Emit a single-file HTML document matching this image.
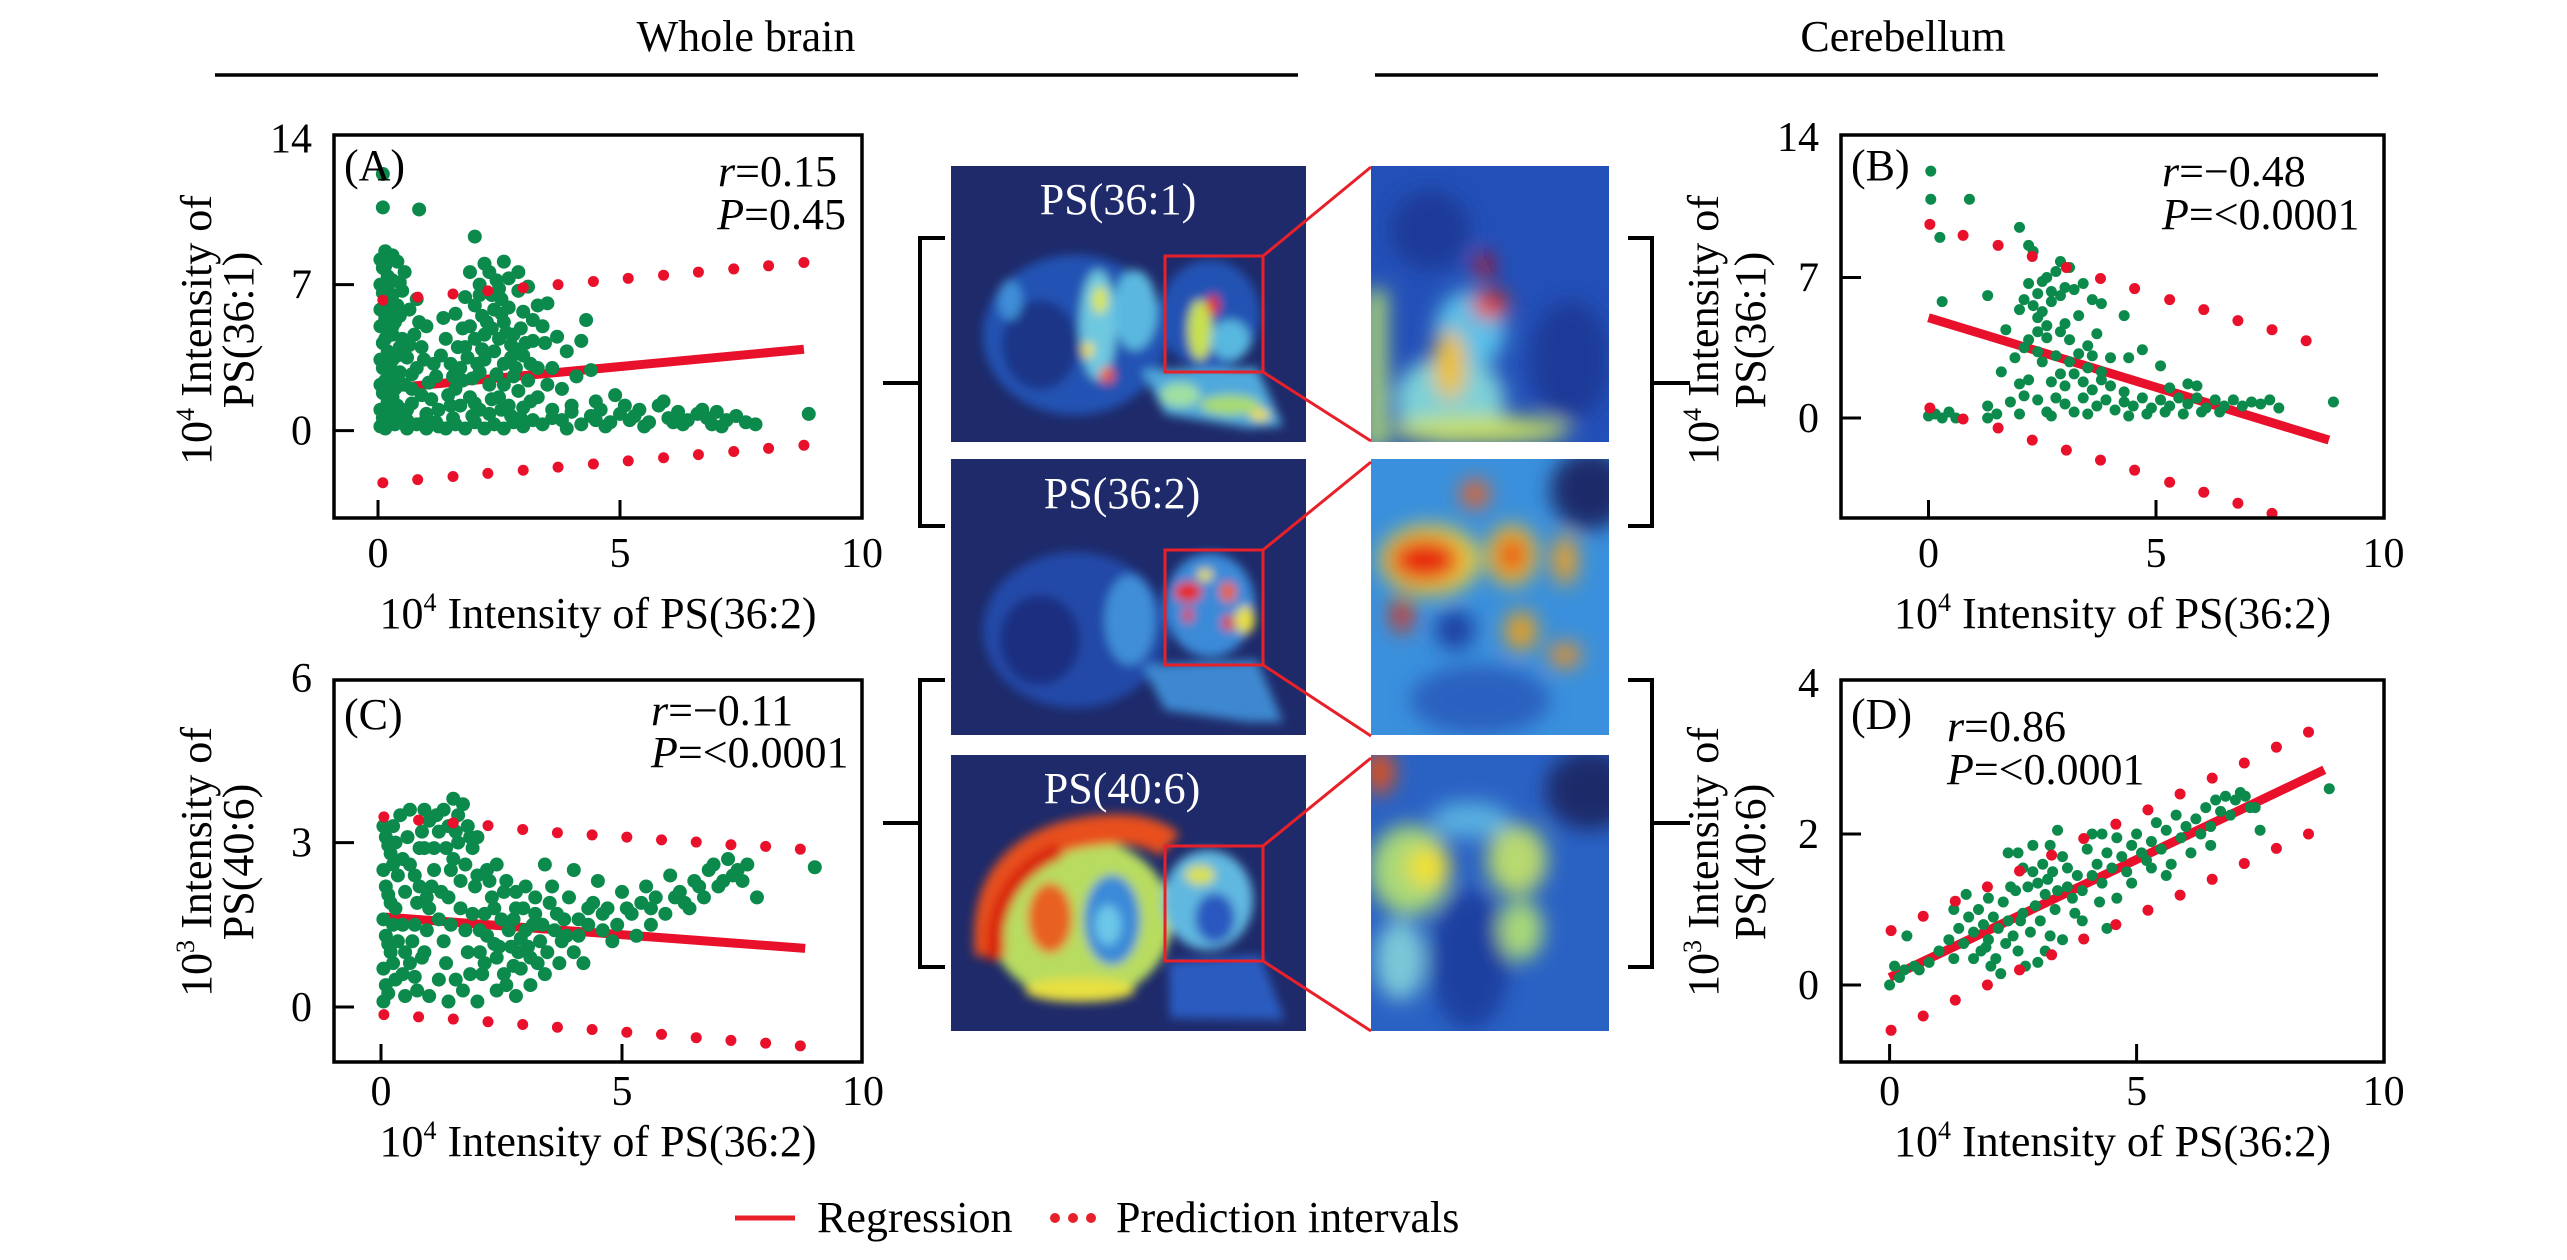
<!DOCTYPE html>
<html><head><meta charset="utf-8">
<style>
html,body{margin:0;padding:0;background:#fff;}
svg{display:block;font-family:"Liberation Serif","Times New Roman",serif;}
</style></head>
<body>
<svg id="fig" width="2567" height="1260" viewBox="0 0 2567 1260" xmlns="http://www.w3.org/2000/svg">
<defs>
<filter id="b1" x="-20%" y="-20%" width="140%" height="140%"><feGaussianBlur stdDeviation="5"/></filter>
<filter id="b2" x="-20%" y="-20%" width="140%" height="140%"><feGaussianBlur stdDeviation="10"/></filter>
<clipPath id="ci1"><rect x="951" y="166" width="355" height="276"/></clipPath>
<clipPath id="ci2"><rect x="951" y="459" width="355" height="276"/></clipPath>
<clipPath id="ci3"><rect x="951" y="755" width="355" height="276"/></clipPath>
<clipPath id="cz1"><rect x="1371" y="166" width="238" height="276"/></clipPath>
<clipPath id="cz2"><rect x="1371" y="459" width="238" height="276"/></clipPath>
<clipPath id="cz3"><rect x="1371" y="755" width="238" height="276"/></clipPath>
</defs>

<text x="746" y="51" font-size="44" text-anchor="middle">Whole brain</text>
<line x1="215" y1="75" x2="1298" y2="75" stroke="#000" stroke-width="3.5"/>
<text x="1903" y="51" font-size="44" text-anchor="middle">Cerebellum</text>
<line x1="1375" y1="75" x2="2378" y2="75" stroke="#000" stroke-width="3.5"/>

<g clip-path="url(#ci1)">
<rect x="951" y="166" width="355" height="276" fill="#1e2a6a"/>
<g filter="url(#b1)">
<ellipse cx="1075" cy="335" rx="92" ry="80" fill="#2453b4"/>
<ellipse cx="1210" cy="315" rx="50" ry="55" fill="#2453b4"/>
<polygon points="1142,370 1257,368 1283,426 1248,428 1165,414" fill="#4fa9dc"/>
<ellipse cx="1040" cy="345" rx="38" ry="45" fill="#1e3487"/>
<ellipse cx="1098" cy="325" rx="18" ry="55" fill="#6ec8e0"/>
<ellipse cx="1135" cy="310" rx="22" ry="40" fill="#5ab8e0"/>
<ellipse cx="1100" cy="300" rx="8" ry="14" fill="#d8e650"/>
<ellipse cx="1107" cy="375" rx="7" ry="8" fill="#f05a10"/>
<ellipse cx="1088" cy="350" rx="6" ry="8" fill="#f0e030"/>
<ellipse cx="1200" cy="330" rx="12" ry="30" fill="#c8e050"/>
<ellipse cx="1213" cy="305" rx="6" ry="10" fill="#e82010"/>
<ellipse cx="1230" cy="340" rx="20" ry="20" fill="#58b8e0"/>
<ellipse cx="1230" cy="405" rx="30" ry="10" fill="#a8dc70"/>
<ellipse cx="1260" cy="415" rx="10" ry="6" fill="#f0e030"/>
<ellipse cx="1180" cy="395" rx="20" ry="12" fill="#a0e0a0"/>
<ellipse cx="1010" cy="300" rx="12" ry="20" fill="#3f8ed8"/>
</g>
</g>
<text x="1118" y="214" font-size="44" fill="#fff" text-anchor="middle">PS(36:1)</text>

<g clip-path="url(#ci2)">
<rect x="951" y="459" width="355" height="276" fill="#1e2a6a"/>
<g filter="url(#b1)">
<ellipse cx="1075" cy="630" rx="92" ry="78" fill="#2248a8"/>
<ellipse cx="1040" cy="640" rx="40" ry="45" fill="#1f2f80"/>
<ellipse cx="1210" cy="605" rx="45" ry="52" fill="#3a8ad8"/>
<polygon points="1142,665 1257,660 1283,722 1248,722 1165,710" fill="#3c88d0"/>
<ellipse cx="1130" cy="620" rx="25" ry="45" fill="#3f8ed8"/>
<ellipse cx="1188" cy="592" rx="14" ry="10" fill="#e82810"/>
<ellipse cx="1228" cy="592" rx="8" ry="10" fill="#f06010"/>
<ellipse cx="1228" cy="623" rx="6" ry="8" fill="#e83010"/>
<ellipse cx="1188" cy="615" rx="5" ry="8" fill="#e83010"/>
<ellipse cx="1245" cy="620" rx="10" ry="14" fill="#e8e040"/>
<ellipse cx="1205" cy="575" rx="8" ry="6" fill="#e8e040"/>
</g>
</g>
<text x="1122" y="508" font-size="44" fill="#fff" text-anchor="middle">PS(36:2)</text>

<g clip-path="url(#ci3)">
<rect x="951" y="755" width="355" height="276" fill="#1e2a6a"/>
<g filter="url(#b1)">
<polygon points="1169,962 1260,955 1285,1020 1170,1018" fill="#2a5cc0"/>
<ellipse cx="1080" cy="920" rx="92" ry="82" fill="#b8dc60"/>
<path d="M990,955 Q980,860 1070,835 Q1140,820 1170,845" fill="none" stroke="#e8501a" stroke-width="30"/>
<path d="M995,960 Q990,880 1060,850" fill="none" stroke="#d82010" stroke-width="16"/>
<ellipse cx="1050" cy="918" rx="22" ry="35" fill="#e86020"/>
<ellipse cx="1112" cy="920" rx="28" ry="45" fill="#3a8ad8"/>
<ellipse cx="1108" cy="925" rx="13" ry="20" fill="#6cc8e8"/>
<ellipse cx="1208" cy="900" rx="45" ry="50" fill="#60b8e0"/>
<ellipse cx="1215" cy="918" rx="20" ry="25" fill="#2a58c0"/>
<ellipse cx="1200" cy="875" rx="15" ry="10" fill="#d8e050"/>
<ellipse cx="1080" cy="990" rx="55" ry="12" fill="#e8e040"/>
</g>
</g>
<text x="1122" y="803" font-size="44" fill="#fff" text-anchor="middle">PS(40:6)</text>

<g clip-path="url(#cz1)">
<rect x="1371" y="166" width="238" height="276" fill="#2350b8"/>
<g filter="url(#b2)">
<ellipse cx="1430" cy="230" rx="40" ry="40" fill="#1d3a98"/>
<ellipse cx="1570" cy="360" rx="40" ry="60" fill="#1d3a98"/>
<rect x="1366" y="290" width="20" height="160" fill="#b8e070"/>
<ellipse cx="1450" cy="400" rx="55" ry="45" fill="#7cd0d8"/>
<ellipse cx="1470" cy="330" rx="35" ry="40" fill="#5ac0e8"/>
<ellipse cx="1450" cy="365" rx="16" ry="35" fill="#f0c020"/>
<ellipse cx="1490" cy="305" rx="18" ry="14" fill="#e83010"/>
<ellipse cx="1484" cy="266" rx="8" ry="14" fill="#c81010"/>
<ellipse cx="1480" cy="430" rx="90" ry="14" fill="#c8e060"/>
</g>
</g>
<g clip-path="url(#cz2)">
<rect x="1371" y="459" width="238" height="276" fill="#3a90dc"/>
<g filter="url(#b2)">
<ellipse cx="1590" cy="490" rx="40" ry="40" fill="#1e2a6a"/>
<ellipse cx="1480" cy="700" rx="70" ry="35" fill="#2a60c0"/>
<ellipse cx="1430" cy="560" rx="50" ry="35" fill="#e8d040"/>
<ellipse cx="1425" cy="560" rx="35" ry="22" fill="#e82810"/>
<ellipse cx="1512" cy="555" rx="25" ry="30" fill="#f0c030"/>
<ellipse cx="1512" cy="555" rx="14" ry="18" fill="#e84010"/>
<ellipse cx="1475" cy="494" rx="14" ry="14" fill="#f06020"/>
<ellipse cx="1402" cy="615" rx="10" ry="18" fill="#e03010"/>
<ellipse cx="1521" cy="631" rx="16" ry="20" fill="#e8a020"/>
<ellipse cx="1565" cy="560" rx="12" ry="25" fill="#f0a020"/>
<ellipse cx="1565" cy="655" rx="16" ry="12" fill="#f09020"/>
<ellipse cx="1455" cy="630" rx="20" ry="20" fill="#1f40a0"/>
</g>
</g>
<g clip-path="url(#cz3)">
<rect x="1371" y="755" width="238" height="276" fill="#2a62c4"/>
<g filter="url(#b2)">
<ellipse cx="1590" cy="790" rx="45" ry="40" fill="#1e2a6a"/>
<ellipse cx="1470" cy="960" rx="40" ry="70" fill="#1f3fa0"/>
<ellipse cx="1410" cy="870" rx="40" ry="45" fill="#a8d878"/>
<ellipse cx="1428" cy="867" rx="22" ry="20" fill="#f0e030"/>
<ellipse cx="1517" cy="860" rx="30" ry="35" fill="#b8d870"/>
<ellipse cx="1521" cy="930" rx="22" ry="30" fill="#a8d878"/>
<ellipse cx="1380" cy="772" rx="14" ry="22" fill="#e85010"/>
<ellipse cx="1400" cy="960" rx="25" ry="40" fill="#7cc8d8"/>
<ellipse cx="1470" cy="820" rx="40" ry="18" fill="#58b0e0"/>
</g>
</g>

<g stroke="#e8202a" stroke-width="3" fill="none">
<rect x="1165" y="256" width="98" height="116"/>
<line x1="1263" y1="256" x2="1371" y2="167"/>
<line x1="1263" y1="372" x2="1371" y2="441"/>
<rect x="1165" y="550" width="98" height="115"/>
<line x1="1263" y1="550" x2="1371" y2="462"/>
<line x1="1263" y1="665" x2="1371" y2="736"/>
<rect x="1165" y="846" width="98" height="115"/>
<line x1="1263" y1="846" x2="1371" y2="758"/>
<line x1="1263" y1="961" x2="1371" y2="1031"/>
</g>

<g stroke="#000" stroke-width="4" fill="none">
<polyline points="945,238 920,238 920,526 945,526"/>
<line x1="883" y1="383" x2="920" y2="383"/>
<polyline points="945,680 920,680 920,967 945,967"/>
<line x1="883" y1="823" x2="920" y2="823"/>
<polyline points="1628,238 1652,238 1652,526 1628,526"/>
<line x1="1652" y1="383" x2="1690" y2="383"/>
<polyline points="1628,680 1652,680 1652,967 1628,967"/>
<line x1="1652" y1="823" x2="1690" y2="823"/>
</g>

<g id="charts"></g>

<g>
<line x1="735" y1="1218" x2="795" y2="1218" stroke="#e8202a" stroke-width="5"/>
<text x="817" y="1232" font-size="44">Regression</text>
<circle cx="1055" cy="1218" r="5" fill="#e8202a"/>
<circle cx="1073" cy="1218" r="5" fill="#e8202a"/>
<circle cx="1091" cy="1218" r="5" fill="#e8202a"/>
<text x="1116" y="1232" font-size="44">Prediction intervals</text>
</g>
</svg>

<script>
const aRegX = [0.1, 8.8];
const aRegY = [2.0, 3.9];
const aPiX = [0.1,0.82,1.55,2.27,3.0,3.72,4.45,5.17,5.9,6.62,7.35,8.07,8.8];
const aPiUp = [6.25,6.4,6.55,6.7,6.85,7.0,7.15,7.3,7.45,7.6,7.75,7.9,8.06];
const aPiLo = [-2.5,-2.35,-2.2,-2.05,-1.9,-1.75,-1.6,-1.45,-1.3,-1.15,-1.0,-0.85,-0.7];
const aPts = [[0.05,0.2],[0.1,0.6],[0.05,1.0],[0.2,1.4],[0.1,1.8],[0.05,2.2],[0.25,2.6],[0.1,3.0],[0.05,3.4],[0.2,3.8],[0.1,4.2],[0.3,4.6],[0.05,5.0],[0.15,5.4],[0.05,5.8],[0.25,6.2],[0.1,6.6],[0.05,7.0],[0.2,7.4],[0.1,7.8],[0.05,8.2],[0.15,8.6],[0.3,8.4],[0.1,12.3],[0.1,10.7],[0.85,10.6],
[0.35,0.3],[0.4,1.2],[0.35,2.0],[0.45,2.8],[0.4,3.6],[0.5,4.4],[0.35,5.2],[0.4,6.0],[0.5,6.7],[0.3,7.2],[0.55,7.6],[0.2,0.9],[0.25,3.2],[0.15,4.9],[0.3,5.7],[0.2,6.9],
[0.6,0.1],[0.8,0.3],[1.0,0.1],[1.2,0.4],[1.4,0.1],[1.6,0.3],[1.8,0.1],[2.0,0.4],[2.2,0.1],[2.4,0.3],[2.6,0.1],[2.8,0.4],[3.0,0.2],[3.2,0.5],[3.4,0.3],[3.6,0.6],
[0.6,1.0],[0.7,2.0],[0.8,3.0],[0.9,4.0],[1.0,5.0],[0.65,5.8],[0.75,4.6],[1.1,1.5],[1.2,2.6],[1.3,3.6],[1.4,4.4],[1.0,0.8],[1.5,1.2],[0.9,1.7],[1.15,3.2],[0.6,3.5],[1.35,5.4],[0.8,6.3],
[1.6,2.0],[1.7,3.0],[1.8,4.0],[1.9,5.0],[2.0,6.0],[2.1,7.0],[2.2,8.0],[2.0,9.3],[2.6,8.1],[2.3,7.6],[2.5,6.8],[2.7,7.3],[2.9,7.6],[3.1,6.9],[2.4,5.8],[2.6,5.2],[2.8,4.6],[3.0,5.7],[2.2,4.6],[2.4,3.8],[2.6,3.2],[2.8,2.6],[3.0,3.6],[3.2,4.3],[2.1,2.8],[2.3,2.2],[2.5,1.6],[2.7,1.2],[2.9,1.9],[3.1,2.4],[1.7,1.2],[1.9,1.6],[2.1,1.0],[2.3,0.8],[1.6,5.6],[1.8,6.4],[2.0,4.4],[2.5,4.4],[2.7,5.9],[2.2,3.4],[3.3,3.0],[3.3,1.6],[3.5,2.2],[3.6,1.0],[3.4,5.0],[3.5,6.1],[3.0,1.1],[1.5,3.2],[1.75,2.4],[2.45,2.7],[2.85,3.9],[2.15,5.5],[2.55,6.3],[2.35,4.9],[2.75,4.1],
[3.8,2.0],[3.9,3.8],[4.1,2.6],[4.3,5.3],[4.2,4.3],[4.9,1.7],[4.0,1.2],[3.7,4.5],[4.5,1.4],[4.4,2.9],
[3.8,0.5],[4.0,0.9],[4.2,0.3],[4.4,0.7],[4.6,1.0],[4.8,0.4],[5.0,0.8],[5.2,0.5],[5.4,1.0],[5.6,0.4],[5.8,1.2],[6.0,0.6],[6.2,0.9],[6.4,0.5],[6.6,0.8],[6.8,0.6],[7.0,0.9],[7.2,0.5],[7.4,0.7],[7.6,0.4],[7.8,0.3],[8.9,0.8],[5.9,1.4],[4.7,0.2],[5.5,0.2],[6.3,0.3],[7.1,0.2],[5.1,1.2],[6.7,1.0],[3.9,0.1],[4.5,0.5],[5.3,0.7],[6.1,0.4],[6.9,0.3],
[0.15,0.1],[0.25,0.5],[0.4,0.8],[0.15,1.1],[0.3,1.6],[0.45,2.3],[0.15,2.4],[0.3,3.4],[0.45,4.0],[0.15,4.4],[0.3,5.0],[0.45,5.5],[0.15,6.0],[0.3,6.5],[0.45,7.1],[0.15,7.9],[0.4,8.1],[0.6,0.5],[0.7,1.3],[0.55,2.2],[0.7,2.7],[0.65,4.1],[0.85,5.2],[0.95,3.4],[1.05,2.3],[1.25,1.0],[1.45,1.7],[1.55,2.6],[1.65,4.0],[1.75,4.9],[1.85,3.5],[1.95,2.5],[2.05,3.2],[2.15,3.9],[2.25,5.2],[2.35,6.5],[2.45,7.2],[2.55,5.6],[2.65,4.7],[2.75,3.5],[2.85,3.0],[2.95,4.9],[3.05,4.2],[3.15,3.2],[2.35,1.5],[2.55,1.0],[2.75,0.7],[2.95,0.6],[3.15,1.4],[1.95,0.7],[1.55,0.6],[1.25,0.2],[0.95,0.4],[2.1,6.5],[2.9,6.7],[3.3,6.0],[3.45,4.2],[3.6,3.0],[3.2,5.3],[1.9,7.6],[2.6,2.2],[2.0,1.3]];

const bRegX = [0.0, 8.8];
const bRegY = [5.0, -1.1];
const bPiX = [0.03,0.76,1.53,2.28,3.03,3.78,4.53,5.3,6.05,6.8,7.55,8.3];
const bPiUp = [9.65,9.1,8.6,8.05,7.5,6.95,6.45,5.9,5.4,4.85,4.4,3.85];
const bPiLo = [0.5,-0.05,-0.5,-1.1,-1.6,-2.1,-2.6,-3.2,-3.7,-4.25,-4.75,-5.3];
const bPts = [[0.05,12.3],[0.05,10.9],[0.9,10.9],[0.25,9.0],[2.0,9.5],[2.2,8.6],[2.3,8.3],[0.3,5.8],[1.3,6.1],[3.1,7.5],[2.8,7.3],[3.0,6.5],[2.5,6.8],[2.7,6.3],[2.9,7.8],[2.6,7.0],[2.2,6.7],[2.4,6.2],[2.1,5.9],[2.3,5.6],[2.5,5.3],[2.7,5.8],[2.9,6.1],[3.2,6.4],[3.4,6.7],[3.6,5.9],[3.8,5.7],[4.3,5.1],[2.0,5.4],[2.4,5.0],[3.0,4.7],[3.3,5.1],[3.7,4.2],[1.7,4.4],[2.2,3.9],[2.6,4.0],[2.9,4.3],[3.1,3.9],[3.5,3.6],[4.7,3.4],[2.1,3.5],[2.4,3.3],[2.8,3.1],[3.1,2.8],[3.3,3.2],[3.6,3.1],[4.0,3.0],[4.4,3.0],[5.1,2.6],[1.9,3.0],[2.5,2.8],[2.9,2.2],[3.2,2.2],[3.5,2.5],[3.8,2.3],[1.6,2.3],[2.0,1.7],[2.2,1.9],[2.7,1.8],[3.0,1.6],[3.4,1.8],[3.6,1.4],[4.0,1.6],[4.3,1.3],[5.3,1.5],[5.7,1.7],[5.9,1.6],[1.3,0.6],[1.5,0.2],[1.8,0.8],[2.1,1.1],[2.4,0.9],[2.6,0.3],[2.8,1.0],[3.0,0.7],[3.2,0.3],[3.4,1.0],[3.7,0.6],[3.9,0.9],[4.1,0.4],[4.3,0.8],[4.5,0.6],[4.7,1.0],[4.9,0.5],[5.1,0.9],[5.3,0.6],[5.5,1.0],[5.7,0.7],[5.9,1.0],[6.1,0.5],[6.3,0.9],[6.5,0.6],[6.7,0.9],[6.9,0.6],[7.1,0.8],[7.3,0.7],[7.5,0.9],[7.7,0.5],[8.9,0.8],[4.4,0.1],[4.8,0.2],[5.2,0.3],[5.6,0.2],[6.0,0.3],[6.4,0.3],[2.7,0.1],[3.5,0.2],[0.0,0.1],[0.15,0.2],[0.3,0.0],[0.45,0.3],[0.6,0.0],[1.3,0.0],[2.0,0.2],[3.8,1.9],[2.6,4.6],[2.4,4.3]];

const cRegX = [0.1, 8.8];
const cRegY = [1.64, 1.07];
const cPiX = [0.06,0.78,1.5,2.22,2.94,3.66,4.38,5.1,5.82,6.54,7.26,7.98,8.7];
const cPiUp = [3.47,3.41,3.36,3.31,3.24,3.18,3.14,3.10,3.05,3.01,2.96,2.93,2.88];
const cPiLo = [-0.14,-0.18,-0.22,-0.27,-0.32,-0.37,-0.41,-0.46,-0.5,-0.56,-0.61,-0.66,-0.71];
const cPts = [[0.05,0.1],[0.1,0.4],[0.05,0.7],[0.2,1.0],[0.1,1.3],[0.05,1.6],[0.2,1.9],[0.1,2.2],[0.05,2.5],[0.2,2.8],[0.1,3.1],[0.05,3.3],[0.3,0.5],[0.35,1.2],[0.3,1.8],[0.35,2.4],[0.3,3.0],[0.4,3.5],[0.6,3.6],[0.5,0.2],
[0.6,0.8],[0.7,1.5],[0.8,2.2],[0.9,2.9],[1.0,3.4],[0.6,2.6],[0.75,0.3],[0.9,1.0],[1.0,1.8],[1.1,2.5],[1.2,3.2],[1.3,3.6],[1.5,3.8],[1.6,3.5],[1.55,3.2],[1.8,3.3],[1.9,2.9],[1.2,0.5],[1.3,1.2],[1.4,2.0],[1.5,2.7],[1.7,0.3],[1.8,1.0],[1.9,1.7],[2.0,2.4],[2.1,0.6],[2.2,1.3],[2.3,2.0],[2.4,0.9],[2.5,1.6],[2.6,0.4],[2.7,1.1],[2.8,1.8],[2.9,0.7],[3.0,1.4],[3.1,0.9],[3.2,1.7],[3.3,1.2],[1.0,0.2],[1.4,0.1],[2.0,0.1],[2.4,0.3],[1.65,2.3],[1.75,1.4],[2.15,1.7],[2.35,1.15],[2.55,2.1],[2.75,0.75],[2.9,1.25],[1.45,2.5],[1.2,1.6],[0.95,2.0],[1.85,0.6],[2.05,1.0],[1.1,2.9],[0.85,3.2],[1.35,2.9],[2.2,2.5],[2.4,2.6],[2.6,2.3],[2.8,2.1],[3.0,2.2],[3.4,2.6],[3.2,2.0],[3.5,1.9],[3.6,1.4],[3.8,1.6],[4.0,1.0],[3.7,0.8],[3.4,0.6],[3.1,0.4],[2.8,0.2],[3.9,2.0],
[4.1,1.6],[4.3,1.5],[4.4,1.9],[4.6,1.4],[4.7,1.8],[4.9,1.5],[5.0,2.1],[5.2,1.7],[5.4,1.9],[5.5,2.2],[5.7,2.0],[5.9,1.7],[6.0,2.4],[6.2,2.1],[6.3,1.9],[6.5,2.3],[6.7,2.0],[6.8,2.5],[7.0,2.2],[7.2,2.7],[7.4,2.5],[7.5,2.3],[7.8,2.0],[9.0,2.55],[4.0,2.5],[4.5,2.3],[6.4,1.8],[5.6,1.5],[4.2,0.8],[4.8,1.2],[6.9,2.6],[7.1,2.3],[5.3,1.3],
[0.15,0.25],[0.25,0.8],[0.15,1.15],[0.25,1.5],[0.15,2.05],[0.25,2.6],[0.15,2.95],[0.25,3.3],[0.45,0.6],[0.5,1.0],[0.45,1.5],[0.5,2.1],[0.45,2.7],[0.55,3.1],[0.7,0.55],[0.65,1.2],[0.75,1.9],[0.7,2.4],[0.8,2.9],[0.85,0.9],[0.95,1.4],[1.05,2.2],[1.15,3.5],[1.25,2.1],[1.35,0.8],[1.45,1.5],[1.55,0.5],[1.65,1.8],[1.75,2.6],[1.85,3.1],[1.95,2.2],[2.05,1.4],[2.15,0.8],[2.25,2.3],[2.35,1.8],[2.45,1.1],[2.55,0.6],[2.65,1.4],[2.75,1.6],[2.85,1.0],[2.95,1.8],[3.05,1.1],[3.15,1.5],[3.25,0.8],[3.35,1.5],[3.45,1.0],[3.55,2.2],[3.65,1.7],[3.75,1.2],[3.85,1.3],[1.6,3.0],[1.7,3.7],[2.0,3.1],[1.4,3.3],[0.9,3.6],[4.1,1.3],[4.3,1.8],[4.6,1.7],[5.1,1.8],[5.6,1.8],[6.1,2.0],[6.6,2.2],[7.3,2.4],[7.6,2.6]];

const dRegX = [0.0, 8.8];
const dRegY = [0.1, 2.85];
const dPiX = [0.03,0.68,1.33,1.98,2.63,3.28,3.93,4.58,5.23,5.88,6.53,7.18,7.83,8.48];
const dPiUp = [0.72,0.91,1.11,1.30,1.51,1.72,1.94,2.13,2.32,2.53,2.74,2.94,3.15,3.35];
const dPiLo = [-0.6,-0.41,-0.2,0.0,0.2,0.4,0.61,0.8,0.99,1.19,1.40,1.61,1.81,2.0];
const dPts = [[0.0,0.0],[0.1,0.25],[0.2,0.1],[0.3,0.2],[0.5,0.25],[0.6,0.2],[0.35,0.65],[0.8,0.3],[1.0,0.45],[1.2,0.6],[1.3,0.35],[1.4,0.75],[1.5,0.55],[1.6,0.9],[1.7,0.7],[1.8,1.0],[1.9,0.8],[1.95,0.5],[2.0,0.6],[2.1,0.9],[2.15,0.35],[2.2,0.75],[2.3,1.1],[2.35,0.55],[2.4,0.85],[2.5,0.65],[2.55,1.25],[2.6,0.45],[2.7,0.95],[2.75,0.25],[2.8,1.3],[2.85,0.7],[2.9,1.5],[2.95,1.05],[3.0,1.35],[3.05,0.85],[3.1,1.6],[3.15,1.2],[3.2,1.4],[3.25,0.65],[3.3,1.5],[3.35,1.0],[3.4,1.25],[3.5,1.7],[3.6,1.3],[3.7,1.15],[3.8,1.45],[3.9,1.25],[4.0,1.8],[4.1,1.45],[4.2,1.6],[4.3,1.35],[4.4,1.75],[4.5,1.55],[4.6,1.95],[4.7,1.7],[4.8,1.5],[4.9,1.85],[5.0,2.0],[5.1,1.75],[5.2,1.65],[5.3,1.9],[5.4,2.15],[5.5,1.8],[5.6,2.05],[5.7,1.6],[5.8,2.25],[5.9,1.95],[6.0,2.1],[6.2,2.2],[6.3,2.0],[6.4,2.35],[6.5,2.1],[6.6,2.45],[6.7,2.3],[6.8,2.5],[6.9,2.25],[7.0,2.45],[7.1,2.55],[7.2,2.5],[7.4,2.35],[7.5,2.05],[8.9,2.6],[2.4,1.75],[2.6,1.75],[2.9,1.85],[3.4,2.05],[4.1,2.0],[4.3,2.0],[3.0,0.3],[2.05,0.25],[3.5,0.6],[3.9,0.85],[4.4,0.75],[1.3,1.0],[1.7,0.35],[2.25,0.15],[4.6,1.15],[5.6,1.45],[2.0,1.15],[2.7,1.55],[3.15,0.45],[1.55,1.2],[2.45,1.3],[3.6,1.55],[4.9,1.35],[5.3,1.55],[6.1,1.75],[6.5,1.85],[7.3,2.35],[3.25,1.85],[2.65,0.85],[1.85,0.45],[3.75,0.95],[4.25,1.1]];

const xTicksAll = [0, 5, 10];
const yTicksA = [0, 7, 14];
const yTicksB = [0, 7, 14];
const yTicksC = [0, 3, 6];
const yTicksD = [0, 2, 4];

const NS = 'http://www.w3.org/2000/svg';
const root = document.getElementById('charts');
function mk(tag, attrs, parent) {
  const el = document.createElementNS(NS, tag);
  for (const k in attrs) el.setAttribute(k, attrs[k]);
  parent.appendChild(el);
  return el;
}
const GREEN = '#0b8a4c', RED = '#e8102a';

function drawPanel(id, p, pts, regX, regY, piX, piUp, piLo, yTicks, ann) {
  const sx = v => p.x0 + v * p.xpu;
  const sy = v => p.y0 - v * p.ypu;
  const g = mk('g', {}, root);
  
  
  const defs = mk('defs', {}, g);
  const cp = mk('clipPath', {id: 'clip-' + id}, defs);
  mk('rect', {x: p.L, y: p.T, width: p.R - p.L, height: p.B - p.T}, cp);
  const plot = mk('g', {'clip-path': 'url(#clip-' + id + ')'}, g);

  const reg = mk('line', {x1: sx(regX[0]), y1: sy(regY[0]), x2: sx(regX[1]), y2: sy(regY[1]), stroke: RED, 'stroke-width': 9}, plot);
  
  

  pts.forEach(pt => {
    const c = mk('circle', {cx: sx(pt[0]), cy: sy(pt[1]), r: p.r, fill: GREEN}, plot);
    
    
  });
  piX.forEach((x, i) => {
    const u = mk('circle', {cx: sx(x), cy: sy(piUp[i]), r: 5.5, fill: RED}, plot);
    
    
    const l = mk('circle', {cx: sx(x), cy: sy(piLo[i]), r: 5.5, fill: RED}, plot);
    
    
  });

  const box = mk('rect', {x: p.L, y: p.T, width: p.R - p.L, height: p.B - p.T, fill: 'none', stroke: '#000', 'stroke-width': 3.5}, g);
  
  

  yTicks.forEach(t => {
    const y = sy(t);
    if (y > p.T + 8 && y < p.B - 4) {
      const tk = mk('line', {x1: p.L, y1: y, x2: p.L + 20, y2: y, stroke: '#000', 'stroke-width': 3}, g);
      
      
    }
    const tl = mk('text', {x: p.L - 22, y: y + 14, 'font-size': 42, 'text-anchor': 'end'}, g);
    tl.textContent = String(t);
    
    
  });
  xTicksAll.forEach(t => {
    const x = sx(t);
    if (x > p.L + 4 && x < p.R - 8) {
      const tk = mk('line', {x1: x, y1: p.B, x2: x, y2: p.B - 18, stroke: '#000', 'stroke-width': 3}, g);
      
      
    }
    const tl = mk('text', {x: x, y: p.tickBase, 'font-size': 42, 'text-anchor': 'middle'}, g);
    tl.textContent = String(t);
    
    
  });

  const xt = mk('text', {x: (p.L + p.R) / 2, y: p.titleBase, 'font-size': 44, 'text-anchor': 'middle'}, g);
  
  
  xt.innerHTML = '10<tspan font-size="26" dy="-17">4</tspan><tspan dy="17"> Intensity of PS(36:2)</tspan>';

  const yt1 = mk('text', {transform: 'translate(' + p.yb1 + ',' + p.yc + ') rotate(-90)', 'font-size': 44, 'text-anchor': 'middle', textLength: 270}, g);
  
  
  yt1.innerHTML = '10<tspan font-size="26" dy="-17">' + p.exp + '</tspan><tspan dy="17"> Intensity of</tspan>';
  const yt2 = mk('text', {transform: 'translate(' + p.yb2 + ',' + p.yc + ') rotate(-90)', 'font-size': 44, 'text-anchor': 'middle'}, g);
  
  
  yt2.textContent = p.ylab;

  const pl = mk('text', {x: p.L + 10, y: ann.lb, 'font-size': 44}, g);
  pl.textContent = '(' + id.toUpperCase() + ')';
  
  
  const rt = mk('text', {x: ann.x, y: ann.rb, 'font-size': 44, 'text-anchor': ann.anchor}, g);
  rt.innerHTML = '<tspan font-style="italic">r</tspan>=' + ann.r;
  
  
  const pt2 = mk('text', {x: ann.x2, y: ann.pb, 'font-size': 44, 'text-anchor': ann.anchor}, g);
  pt2.innerHTML = '<tspan font-style="italic">P</tspan>=' + ann.p;
  
  
}

drawPanel('a', {L:334,T:135,R:862,B:518,x0:378,xpu:48.4,y0:430.6,ypu:20.86,r:7,tickBase:567,titleBase:628,yb1:211,yb2:253,yc:330,exp:'4',ylab:'PS(36:1)'},
  aPts, aRegX, aRegY, aPiX, aPiUp, aPiLo, yTicksA, {lb:180, x:837, x2:846, rb:186, pb:229, anchor:'end', r:'0.15', p:'0.45'});
drawPanel('b', {L:1841,T:135,R:2384,B:518,x0:1928.5,xpu:45.5,y0:418,ypu:20.07,r:5.5,tickBase:567,titleBase:628,yb1:1718,yb2:1765,yc:330,exp:'4',ylab:'PS(36:1)'},
  bPts, bRegX, bRegY, bPiX, bPiUp, bPiLo, yTicksB, {lb:180, x:2162, x2:2162, rb:186, pb:229, anchor:'start', r:'\u22120.48', p:'&lt;0.0001'});
drawPanel('c', {L:334,T:680,R:862,B:1062,x0:381,xpu:48.2,y0:1007,ypu:54.8,r:7,tickBase:1105,titleBase:1156,yb1:211,yb2:253,yc:862,exp:'3',ylab:'PS(40:6)'},
  cPts, cRegX, cRegY, cPiX, cPiUp, cPiLo, yTicksC, {lb:729, x:651, x2:651, rb:725, pb:767, anchor:'start', r:'\u22120.11', p:'&lt;0.0001'});
drawPanel('d', {L:1841,T:680,R:2384,B:1062,x0:1889.6,xpu:49.4,y0:985,ypu:75.5,r:5.5,tickBase:1105,titleBase:1156,yb1:1718,yb2:1765,yc:862,exp:'3',ylab:'PS(40:6)'},
  dPts, dRegX, dRegY, dPiX, dPiUp, dPiLo, yTicksD, {lb:729, x:1947, x2:1947, rb:741, pb:784, anchor:'start', r:'0.86', p:'&lt;0.0001'});
</script>
</body></html>
